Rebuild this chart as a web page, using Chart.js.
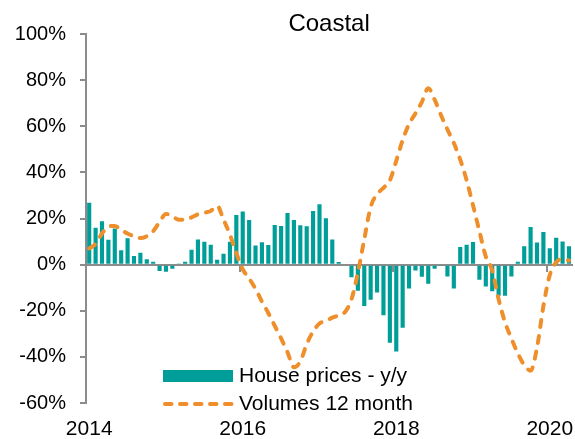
<!DOCTYPE html>
<html>
<head>
<meta charset="utf-8">
<script src="https://cdn.jsdelivr.net/npm/chart.js@4/dist/chart.umd.min.js"></script>
<style>
html,body{margin:0;padding:0;background:#fff;}
#wrap{width:575px;height:439px;}
</style>
</head>
<body>
<div id="wrap"><canvas id="c" width="575" height="439"></canvas></div>
<script>
// ---- data ----
const startYear = 2014;
const monthCount = 76; // Jan 2014 .. Apr 2020
const monthNames = ['Jan','Feb','Mar','Apr','May','Jun','Jul','Aug','Sep','Oct','Nov','Dec'];
const categories = [];
for (let i = 0; i < monthCount; i++) {
  categories.push(monthNames[i % 12] + ' ' + (startYear + Math.floor(i / 12)));
}
const yearTickLabels = ['2014', '2016', '2018', '2020'];

const housePrices = [
  26.8, 16, 18.8, 10.8, 15.7, 6.2, 11.4, 3.7, 5.2, 2.3, 1.3, -2.8,
  -3.1, -1.8, 0.3, 1.3, 6.4, 10.9, 9.9, 8.6, 2.1, 4.7, 9.9, 21.5,
  23, 19.3, 8.3, 9.7, 8.5, 17.2, 16.8, 22.4, 19.3, 17.1, 16.6, 23.2,
  26.2, 20.1, 10.9, 1.1, 0, -5.5, -11.3, -17.9, -15.2, -12.1, -21.9, -33.9,
  -37.7, -27.4, -10.3, -2.6, -5.3, -8.3, -1.8, -0.6, -5.1, -10.3, 7.6, 8.6,
  9.8, -6.6, -9.5, -11.5, -13.5, -13.5, -5.2, 1.2, 8, 16.3, 9.6, 14.2,
  7.1, 11.6, 10, 8
];

const volumes12m = [
  7, 9, 13.5, 16.5, 16.8, 15, 13.5, 12.3, 11.5, 12.3, 14.5, 18.5,
  22, 21, 19.5, 19.5, 20.5, 21.8, 22.5, 23.3, 25.5, 19.5, 13, 5,
  -2, -6, -10.5, -16, -21, -26.5, -32, -38, -44.5, -42, -34.5, -29,
  -25.5, -24.5, -23, -22, -20.5, -15, -3.5, 11, 25, 30.5, 33.3, 36.5,
  45, 54, 61, 65.5, 70.5, 76.5, 71.5, 64.8, 58.6, 52.7, 45.5, 36.6,
  25.7, 14.5, 3.5, -2.5, -15, -25, -32, -38.5, -43.5, -46, -36, -18,
  -4.5, 1, 2.4, 1.8
];

const seriesNames = ['House prices - y/y', 'Volumes 12 month'];
const yTicks = {min: -60, max: 100, step: 20};

// ---- styles ----
const TEAL = '#009E98';
const ORANGE = '#EF8F2B';
const AXIS = '#8C8C8C';
const FONT = '"Liberation Sans", Arial, sans-serif';

function isYearTick(i) {
  const lab = categories[i];
  if (!lab) return false;
  const [m, y] = lab.split(' ');
  return m === 'Jan' && yearTickLabels.includes(y);
}

const insideLegend = {
  id: 'insideLegend',
  afterDraw(chart) {
    const {ctx, chartArea: a} = chart;
    const x0 = a.left + 77, w = 70, tx = x0 + w + 6;
    const y1 = a.bottom - 27, y2 = a.bottom + 1;
    ctx.save();
    ctx.fillStyle = TEAL;
    ctx.fillRect(x0, y1 - 6, w, 12);
    ctx.strokeStyle = ORANGE;
    ctx.lineWidth = 4;
    ctx.lineCap = 'round';
    ctx.setLineDash([6.5, 8.5]);
    ctx.beginPath();
    ctx.moveTo(x0 + 2, y2);
    ctx.lineTo(x0 + w, y2);
    ctx.stroke();
    ctx.setLineDash([]);
    ctx.fillStyle = '#000';
    ctx.font = '21px ' + FONT;
    ctx.textBaseline = 'middle';
    ctx.textAlign = 'left';
    ctx.fillText(seriesNames[0], tx, y1);
    ctx.fillText(seriesNames[1], tx, y2);
    ctx.restore();
  }
};

new Chart(document.getElementById('c'), {
  data: {
    labels: categories,
    datasets: [
      {
        type: 'line',
        label: seriesNames[1],
        data: volumes12m,
        borderColor: ORANGE,
        borderWidth: 4,
        borderDash: [7, 9],
        borderCapStyle: 'round',
        pointRadius: 0,
        cubicInterpolationMode: 'monotone',
        fill: false,
        order: 0,
        xAxisID: 'x',
        yAxisID: 'y'
      },
      {
        type: 'bar',
        label: seriesNames[0],
        data: housePrices,
        backgroundColor: TEAL,
        categoryPercentage: 1,
        barPercentage: 0.65,
        order: 1,
        xAxisID: 'x',
        yAxisID: 'y'
      }
    ]
  },
  options: {
    responsive: false,
    animation: false,
    devicePixelRatio: 1,
    layout: {padding: {left: 0, right: 2, top: 0, bottom: 0}},
    plugins: {
      legend: {display: false},
      tooltip: {enabled: false},
      title: {
        display: true,
        text: 'Coastal',
        fullSize: false,
        color: '#000',
        font: {family: FONT, size: 24, weight: 'normal', lineHeight: 1},
        padding: {top: 12, bottom: -2}
      }
    },
    scales: {
      x: {
        type: 'category',
        position: {y: 0},
        offset: true,
        grid: {
          display: true,
          drawOnChartArea: false,
          drawTicks: true,
          tickLength: 6,
          offset: true,
          lineWidth: 2,
          color: (c) => isYearTick(c.index) ? AXIS : 'rgba(0,0,0,0)'
        },
        border: {display: true, color: AXIS, width: 2},
        ticks: {display: false, autoSkip: false}
      },
      x2: {
        type: 'category',
        position: 'bottom',
        offset: true,
        grid: {display: false},
        border: {display: false},
        ticks: {
          autoSkip: false,
          maxRotation: 0,
          minRotation: 0,
          padding: 6,
          color: '#000',
          font: {family: FONT, size: 21},
          callback: (v, i) => isYearTick(i) ? categories[i].split(' ')[1] : ''
        },
        afterFit(s) { s.height = 36; }
      },
      y: {
        min: yTicks.min,
        max: yTicks.max,
        ticks: {
          stepSize: yTicks.step,
          padding: 14,
          color: '#000',
          font: {family: FONT, size: 20},
          callback: (v) => v + '%'
        },
        grid: {drawOnChartArea: false, tickLength: 6, color: AXIS, lineWidth: 2},
        border: {color: AXIS, width: 2},
        afterFit(s) { s.width = 86; }
      }
    }
  },
  plugins: [insideLegend]
});
</script>
</body>
</html>
